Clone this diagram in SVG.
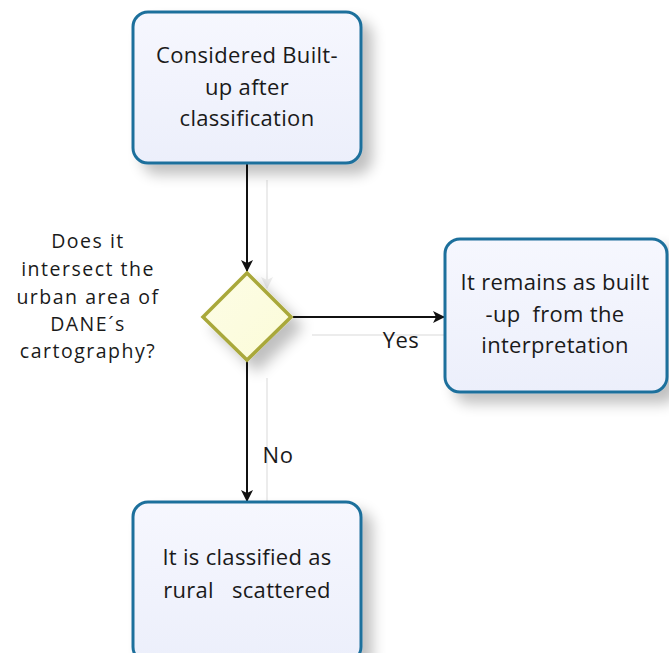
<svg xmlns="http://www.w3.org/2000/svg" width="669" height="653" viewBox="0 0 669 653">
  <defs>
    <linearGradient id="boxFill" x1="0" y1="0" x2="0" y2="1">
      <stop offset="0" stop-color="#f6f7fe"/>
      <stop offset="1" stop-color="#eceffb"/>
    </linearGradient>
    <linearGradient id="diaFill" x1="0" y1="0" x2="1" y2="1">
      <stop offset="0" stop-color="#fdfde6"/>
      <stop offset="1" stop-color="#fbfbd8"/>
    </linearGradient>
    <filter id="shadow" x="-20%" y="-20%" width="150%" height="150%">
      <feGaussianBlur in="SourceAlpha" stdDeviation="7"/>
      <feOffset dx="10" dy="10" result="b"/>
      <feComponentTransfer><feFuncA type="linear" slope="0.25"/></feComponentTransfer>
      <feMerge><feMergeNode/><feMergeNode in="SourceGraphic"/></feMerge>
    </filter>
    <marker id="arrow" viewBox="0 0 12 12" refX="11" refY="6" markerWidth="12" markerHeight="12" markerUnits="userSpaceOnUse" orient="auto">
      <path d="M0,0 L12,6 L0,12 L3,6 Z" fill="#111"/>
    </marker>
    <marker id="ghost" viewBox="0 0 12 12" refX="11" refY="6" markerWidth="12" markerHeight="12" markerUnits="userSpaceOnUse" orient="auto">
      <path d="M0,0 L12,6 L0,12 L3,6 Z" fill="#ececec"/>
    </marker>
  </defs>
  <style>
    text { font-family: "Open Sans", "DejaVu Sans", sans-serif; fill: #1a1a1a; text-anchor: middle; letter-spacing: 0.3px; }
    .box { fill: url(#boxFill); stroke: #1f6f9c; stroke-width: 3; }
    .dia { fill: url(#diaFill); stroke: #a9a83a; stroke-width: 3.5; }
    .t { font-size: 22px; }
    .lbl { font-size: 22px; letter-spacing: 0.5px; }
    .q { font-size: 19.5px; letter-spacing: 1.5px; }
    .edge { stroke: #111; stroke-width: 2; fill: none; marker-end: url(#arrow); }
    .edge-shadow { stroke: #ececec; stroke-width: 2; fill: none; marker-end: url(#ghost); }
  </style>

  <rect width="669" height="653" fill="#ffffff"/>

  <!-- faint shadows cast by the connectors -->
  <g id="connector-shadows">
    <path class="edge-shadow" d="M267,180 V288"/>
    <path class="edge-shadow" d="M312,335 H460"/>
    <path class="edge-shadow" d="M267,378 V515"/>
  </g>

  <g id="connectors">
    <path class="edge" d="M247,164 V271"/>
    <path class="edge" d="M293,317 H444"/>
    <path class="edge" d="M247,361 V501"/>
    <text class="lbl" x="401" y="348">Yes</text>
    <text class="lbl" x="278" y="463">No</text>
  </g>

  <g id="start">
    <rect class="box" x="133" y="12" width="228" height="151" rx="15" filter="url(#shadow)"/>
    <text class="t" x="247" y="63">Considered Built-</text>
    <text class="t" x="247" y="95">up after</text>
    <text class="t" x="247" y="126">classification</text>
  </g>

  <g id="decision">
    <polygon class="dia" points="247,273 291,317 247,360 203,317" filter="url(#shadow)"/>
  </g>

  <g id="question">
    <text class="q" x="88" y="248">Does it</text>
    <text class="q" x="88" y="276">intersect the</text>
    <text class="q" x="88" y="304">urban area of</text>
    <text class="q" x="88" y="331">DANE´s</text>
    <text class="q" x="88" y="358">cartography?</text>
  </g>

  <g id="built-up">
    <rect class="box" x="445" y="239" width="222" height="153" rx="15" filter="url(#shadow)"/>
    <text class="t" x="555" y="290">It remains as built</text>
    <text class="t" x="555" y="322" xml:space="preserve">-up  from the</text>
    <text class="t" x="555" y="353">interpretation</text>
  </g>

  <g id="rural">
    <rect class="box" x="133" y="502" width="228" height="160" rx="15" filter="url(#shadow)"/>
    <text class="t" x="247" y="565">It is classified as</text>
    <text class="t" x="247" y="598" xml:space="preserve">rural   scattered</text>
  </g>
</svg>
